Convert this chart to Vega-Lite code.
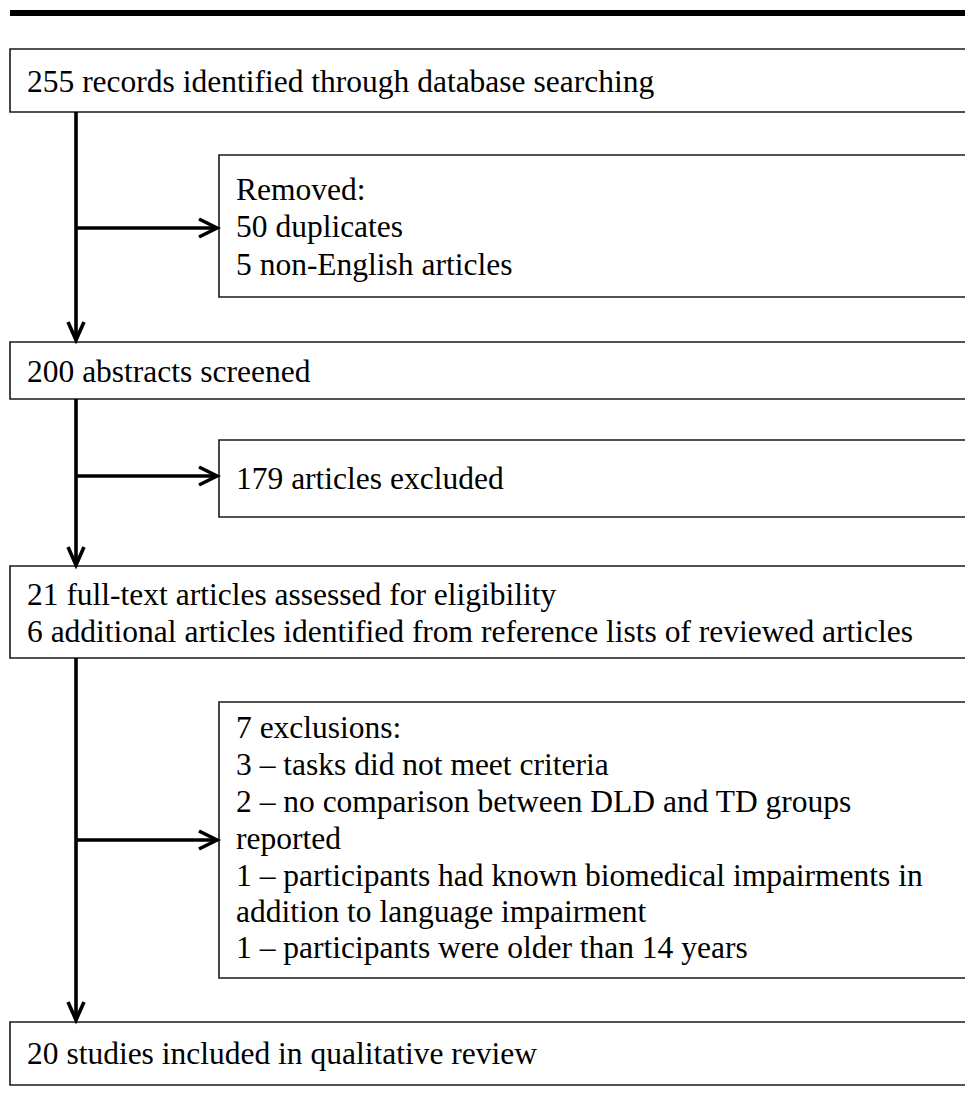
{
  "$schema": "https://vega.github.io/schema/vega-lite/v6.json",
  "width": 965,
  "height": 1116,
  "padding": 0,
  "autosize": {"type": "fit", "contains": "padding"},
  "background": "white",
  "config": {"view": {"stroke": null}},
  "datasets": {
    "bar": [{"x": 10, "x2": 965, "y": 10, "y2": 16}],
    "boxes": [
      {"id": "identified", "x": 10, "x2": 990, "y": 49, "y2": 112},
      {"id": "removed", "x": 219, "x2": 990, "y": 155, "y2": 297},
      {"id": "screened", "x": 10, "x2": 990, "y": 342, "y2": 399},
      {"id": "excluded", "x": 219, "x2": 990, "y": 440, "y2": 517},
      {"id": "fulltext", "x": 10, "x2": 990, "y": 566, "y2": 658},
      {"id": "exclusions", "x": 219, "x2": 990, "y": 702, "y2": 978},
      {"id": "included", "x": 10, "x2": 990, "y": 1022, "y2": 1085}
    ],
    "links": [
      {"path": "s1", "o": 0, "x": 76, "y": 112},
      {"path": "s1", "o": 1, "x": 76, "y": 339},
      {"path": "h1", "o": 0, "x": 68, "y": 322},
      {"path": "h1", "o": 1, "x": 76, "y": 340},
      {"path": "h1", "o": 2, "x": 84, "y": 322},
      {"path": "s2", "o": 0, "x": 76, "y": 228},
      {"path": "s2", "o": 1, "x": 216, "y": 228},
      {"path": "h2", "o": 0, "x": 199, "y": 219},
      {"path": "h2", "o": 1, "x": 217, "y": 228},
      {"path": "h2", "o": 2, "x": 199, "y": 237},
      {"path": "s3", "o": 0, "x": 76, "y": 399},
      {"path": "s3", "o": 1, "x": 76, "y": 564},
      {"path": "h3", "o": 0, "x": 68, "y": 547},
      {"path": "h3", "o": 1, "x": 76, "y": 565},
      {"path": "h3", "o": 2, "x": 84, "y": 547},
      {"path": "s4", "o": 0, "x": 76, "y": 476},
      {"path": "s4", "o": 1, "x": 216, "y": 476},
      {"path": "h4", "o": 0, "x": 199, "y": 467},
      {"path": "h4", "o": 1, "x": 217, "y": 476},
      {"path": "h4", "o": 2, "x": 199, "y": 485},
      {"path": "s5", "o": 0, "x": 76, "y": 658},
      {"path": "s5", "o": 1, "x": 76, "y": 1019},
      {"path": "h5", "o": 0, "x": 68, "y": 1002},
      {"path": "h5", "o": 1, "x": 76, "y": 1020},
      {"path": "h5", "o": 2, "x": 84, "y": 1002},
      {"path": "s6", "o": 0, "x": 76, "y": 840},
      {"path": "s6", "o": 1, "x": 216, "y": 840},
      {"path": "h6", "o": 0, "x": 199, "y": 831},
      {"path": "h6", "o": 1, "x": 217, "y": 840},
      {"path": "h6", "o": 2, "x": 199, "y": 849}
    ],
    "labels": [
      {"x": 27, "y": 92, "text": "255 records identified through database searching"},
      {"x": 236, "y": 200, "text": "Removed:"},
      {"x": 236, "y": 237, "text": "50 duplicates"},
      {"x": 236, "y": 275, "text": "5 non-English articles"},
      {"x": 27, "y": 382, "text": "200 abstracts screened"},
      {"x": 236, "y": 489, "text": "179 articles excluded"},
      {"x": 27, "y": 605, "text": "21 full-text articles assessed for eligibility"},
      {"x": 27, "y": 642, "text": "6 additional articles identified from reference lists of reviewed articles"},
      {"x": 236, "y": 738, "text": "7 exclusions:"},
      {"x": 236, "y": 775, "text": "3 – tasks did not meet criteria"},
      {"x": 236, "y": 812, "text": "2 – no comparison between DLD and TD groups"},
      {"x": 236, "y": 849, "text": "reported"},
      {"x": 236, "y": 886, "text": "1 – participants had known biomedical impairments in"},
      {"x": 236, "y": 922, "text": "addition to language impairment"},
      {"x": 236, "y": 958, "text": "1 – participants were older than 14 years"},
      {"x": 27, "y": 1064, "text": "20 studies included in qualitative review"}
    ]
  },
  "layer": [
    {
      "data": {"name": "bar"},
      "mark": {"type": "rect", "fill": "#000000", "clip": true},
      "encoding": {
        "x": {"field": "x", "type": "quantitative", "scale": {"domain": [0, 965], "nice": false, "zero": false}, "axis": null},
        "x2": {"field": "x2"},
        "y": {"field": "y", "type": "quantitative", "scale": {"domain": [0, 1116], "nice": false, "zero": false, "reverse": true}, "axis": null},
        "y2": {"field": "y2"}
      }
    },
    {
      "data": {"name": "boxes"},
      "mark": {"type": "rect", "fill": "#ffffff", "stroke": "#1a1a1a", "strokeWidth": 1.6, "clip": true},
      "encoding": {
        "x": {"field": "x", "type": "quantitative"},
        "x2": {"field": "x2"},
        "y": {"field": "y", "type": "quantitative"},
        "y2": {"field": "y2"}
      }
    },
    {
      "data": {"name": "links"},
      "mark": {"type": "line", "stroke": "#000000", "strokeWidth": 3.6, "strokeJoin": "miter", "strokeCap": "butt", "clip": true},
      "encoding": {
        "x": {"field": "x", "type": "quantitative"},
        "y": {"field": "y", "type": "quantitative"},
        "detail": {"field": "path"},
        "order": {"field": "o", "type": "quantitative"}
      }
    },
    {
      "data": {"name": "labels"},
      "mark": {"type": "text", "align": "left", "baseline": "alphabetic", "font": "Liberation Serif", "fontSize": 31.5, "fill": "#000000"},
      "encoding": {
        "x": {"field": "x", "type": "quantitative"},
        "y": {"field": "y", "type": "quantitative"},
        "text": {"field": "text"}
      }
    }
  ]
}
